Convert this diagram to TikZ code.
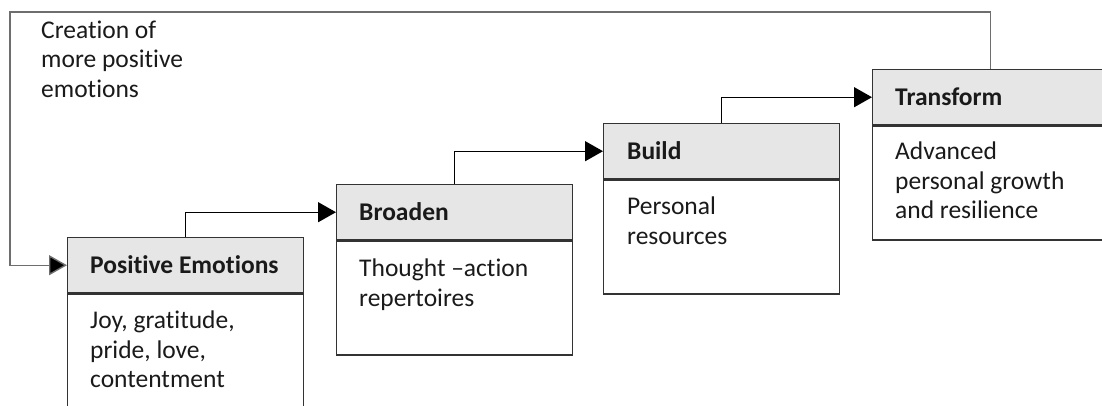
\documentclass[tikz,border=0pt]{standalone}
\usepackage{fontspec}
\setmainfont{Carlito}[Ligatures={NoCommon}]
\usetikzlibrary{arrows.meta}
\definecolor{hdrfill}{HTML}{E6E6E6}
\definecolor{boxline}{HTML}{333333}
\definecolor{fbline}{HTML}{6E6E6E}
\definecolor{txt}{HTML}{1A1A1A}
\tikzset{
  hdr/.style={draw=boxline, line width=1.4pt, fill=hdrfill, minimum width=236pt, minimum height=55pt, inner sep=0pt, anchor=north west},
  bodybox/.style={draw=boxline, line width=1.4pt, fill=white, minimum width=236pt, minimum height=114pt, inner sep=0pt, anchor=north west},
  htext/.style={anchor=base west, inner sep=0pt, text=txt, font=\fontsize{25.5}{29.5}\selectfont\bfseries},
  btext/.style={anchor=north west, inner sep=0pt, align=left, text=txt, font=\fontsize{25.5}{29.5}\selectfont},
  conn/.style={draw=black, line width=1.3pt, -{Triangle[length=18pt,width=20pt]}},
  fb/.style={draw=fbline, line width=1.4pt, -{Triangle[length=18pt,width=20pt,fill=black]}}
}
\begin{document}
\begin{tikzpicture}[x=1pt,y=-1pt]
\useasboundingbox (0,0) rectangle (1102,405);
\clip (0,0) rectangle (1102,405);
\fill[white] (0,0) rectangle (1102,405);
% Positive Emotions
\node[hdr] (peh) at (67,237) {};
\node[bodybox] (peb) at (peh.south west) {};
\node[htext] (pet) at ([xshift=23pt,yshift=-8pt]peh.west) {Positive Emotions};
\node[btext] (pebt) at ([xshift=23pt,yshift=-14.35pt]peb.north west) {\strut Joy, gratitude,\\pride, love,\\contentment};
% Broaden
\node[hdr] (brh) at (336,184) {};
\node[bodybox] (brb) at (brh.south west) {};
\node[htext] (brt) at ([xshift=23pt,yshift=-8pt]brh.west) {Broaden};
\node[btext] (brbt) at ([xshift=23pt,yshift=-15.35pt]brb.north west) {\strut Thought –action\\repertoires};
% Build
\node[hdr] (buh) at (603,123) {};
\node[bodybox] (bub) at (buh.south west) {};
\node[htext] (but) at ([xshift=24pt,yshift=-8pt]buh.west) {Build};
\node[btext] (bubt) at ([xshift=24pt,yshift=-14.35pt]bub.north west) {\strut Personal\\resources};
% Transform
\node[hdr] (trh) at (872,69) {};
\node[bodybox] (trb) at (trh.south west) {};
\node[htext] (trt) at ([xshift=23pt,yshift=-8pt]trh.west) {Transform};
\node[btext] (trbt) at ([xshift=23pt,yshift=-13.35pt]trb.north west) {\strut Advanced\\personal growth\\and resilience};
% connectors
\draw[conn] (peh.north) |- (brh.west);
\draw[conn] (brh.north) |- (buh.west);
\draw[conn] (buh.north) |- (trh.west);
% feedback loop
\coordinate (fbtop) at (10,12);
\draw[fb] (trh.north) |- (fbtop) |- (peh.west);
\node[btext] (fbt) at (41,17.5) {\strut Creation of\\more positive\\emotions};
\end{tikzpicture}
\end{document}
